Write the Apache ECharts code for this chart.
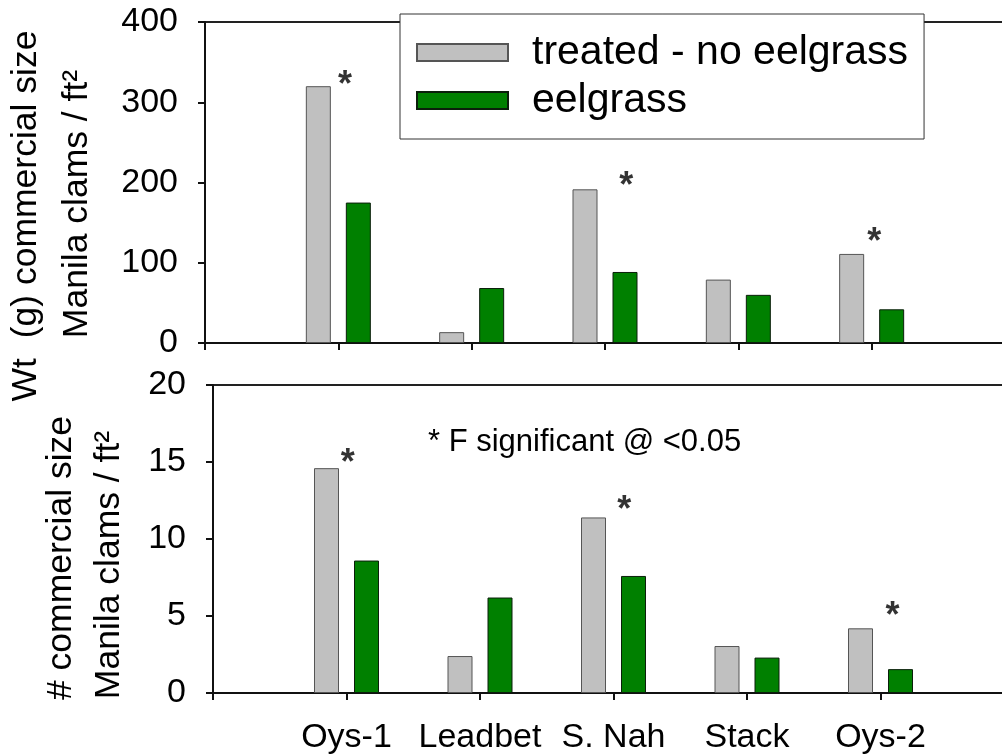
<!DOCTYPE html>
<html>
<head>
<meta charset="utf-8">
<script src="https://cdn.jsdelivr.net/npm/echarts@6/dist/echarts.min.js"></script>
<style>
  html, body { margin: 0; padding: 0; background: #fff; }
  #chart { width: 1002px; height: 754px; }
</style>
</head>
<body>
<div id="chart"></div>
<script>
// ---- data ----
const categories = ['Oys-1', 'Leadbet', 'S. Nah', 'Stack', 'Oys-2'];
const seriesNames = ['treated - no eelgrass', 'eelgrass'];
// top panel: Wt (g) commercial size Manila clams / ft2
const wtTreated  = [320, 13.5, 191.5, 79, 111];
const wtEelgrass = [175, 68.5, 88.5, 60, 42];
// bottom panel: # commercial size Manila clams / ft2
const numTreated  = [14.6, 2.4, 11.4, 3.05, 4.2];
const numEelgrass = [8.6, 6.2, 7.6, 2.3, 1.55];
// significance markers (category position, value)
const wtSig  = [[1.05, 331], [3.16, 205], [5.02, 136]];
const numSig = [[1.01, 15.47], [3.08, 12.38], [5.09, 5.52]];
const noteText = '* F significant @ <0.05';
const topTitle = ['Wt  (g) commercial size', 'Manila clams / ft²'];
const bottomTitle = ['# commercial size', 'Manila clams / ft²'];

const FONT = '"Liberation Sans", Arial, sans-serif';
const toXY = vals => vals.map((v, i) => [i + 1, v]);

const chart = echarts.init(document.getElementById('chart'), null, { renderer: 'canvas' });

const axisLineStyle = { color: '#111', width: 2 };

function xAxisFor(gridIndex, showLabels) {
  return {
    type: 'value', gridIndex: gridIndex, min: 0, max: 6, interval: 1,
    axisLine: { show: true, lineStyle: axisLineStyle },
    axisTick: { show: true, inside: false, length: 7, lineStyle: { color: '#111', width: 2 } },
    axisLabel: {
      show: showLabels, fontSize: 34, color: '#000', fontFamily: FONT, margin: 28,
      formatter: v => (v >= 1 && v <= categories.length) ? categories[v - 1] : ''
    },
    splitLine: { show: false }
  };
}
function yAxisFor(gridIndex, max, interval) {
  return {
    type: 'value', gridIndex: gridIndex, min: 0, max: max, interval: interval,
    axisLine: { show: true, lineStyle: axisLineStyle },
    axisTick: { show: true, inside: false, length: 7, lineStyle: { color: '#111', width: 2 } },
    axisLabel: { fontSize: 34, color: '#000', fontFamily: FONT, margin: 27 },
    splitLine: { show: false }
  };
}

const grayStyle = { color: '#c0c0c0', borderColor: '#555', borderWidth: 1 };
const greenStyle = { color: '#008000', borderColor: '#0b1f0b', borderWidth: 1 };

function barSeries(name, data, idx, style) {
  return {
    type: 'bar', name: name, xAxisIndex: idx, yAxisIndex: idx,
    data: toXY(data), barWidth: 25, barGap: '60%', itemStyle: style, silent: true
  };
}
function sigSeries(data, idx) {
  return {
    type: 'scatter', xAxisIndex: idx, yAxisIndex: idx, data: data,
    symbol: 'circle', symbolSize: 0.1, itemStyle: { color: 'transparent' }, silent: true,
    label: { show: true, position: 'inside', formatter: '*', fontSize: 36, fontWeight: 'bold',
             color: '#000', fontFamily: FONT, offset: [0, 9] }
  };
}
function vText(x, y, text) {
  return {
    type: 'text', x: x, y: y, rotation: Math.PI / 2, silent: true,
    style: { text: text, x: 0, y: 0, align: 'center', verticalAlign: 'middle',
             fontSize: 35.5, fill: '#000', fontFamily: FONT }
  };
}

chart.setOption({
  animation: false,
  backgroundColor: '#fff',
  textStyle: { fontFamily: FONT },
  grid: [
    { left: 205, top: 22, width: 800, height: 321, show: true, borderColor: '#222', borderWidth: 2,
      backgroundColor: 'transparent', containLabel: false, outerBoundsMode: 'none' },
    { left: 213, top: 385, width: 801, height: 308, show: true, borderColor: '#222', borderWidth: 2,
      backgroundColor: 'transparent', containLabel: false, outerBoundsMode: 'none' }
  ],
  xAxis: [xAxisFor(0, false), xAxisFor(1, true)],
  yAxis: [yAxisFor(0, 400, 100), yAxisFor(1, 20, 5)],
  legend: {
    data: seriesNames, left: 400, top: 14, orient: 'vertical',
    padding: [18, 16, 18, 16], itemGap: 7, itemWidth: 91, itemHeight: 17,
    backgroundColor: '#fff', borderColor: '#333', borderWidth: 1, borderRadius: 0,
    selectedMode: false, icon: 'rect', z: 10,
    textStyle: { fontSize: 41, color: '#000', fontFamily: FONT, padding: [0, 0, 0, 19] }
  },
  series: [
    barSeries(seriesNames[0], wtTreated, 0, grayStyle),
    barSeries(seriesNames[1], wtEelgrass, 0, greenStyle),
    barSeries(seriesNames[0], numTreated, 1, grayStyle),
    barSeries(seriesNames[1], numEelgrass, 1, greenStyle),
    sigSeries(wtSig, 0),
    sigSeries(numSig, 1)
  ],
  graphic: [
    vText(26, 216, topTitle[0]),
    vText(77, 204, topTitle[1]),
    vText(61, 558, bottomTitle[0]),
    vText(109, 565, bottomTitle[1]),
    {
      type: 'text', x: 428, y: 442, silent: true,
      style: { text: noteText, align: 'left', verticalAlign: 'middle', fontSize: 31,
               fill: '#000', fontFamily: FONT }
    }
  ]
});
</script>
</body>
</html>
